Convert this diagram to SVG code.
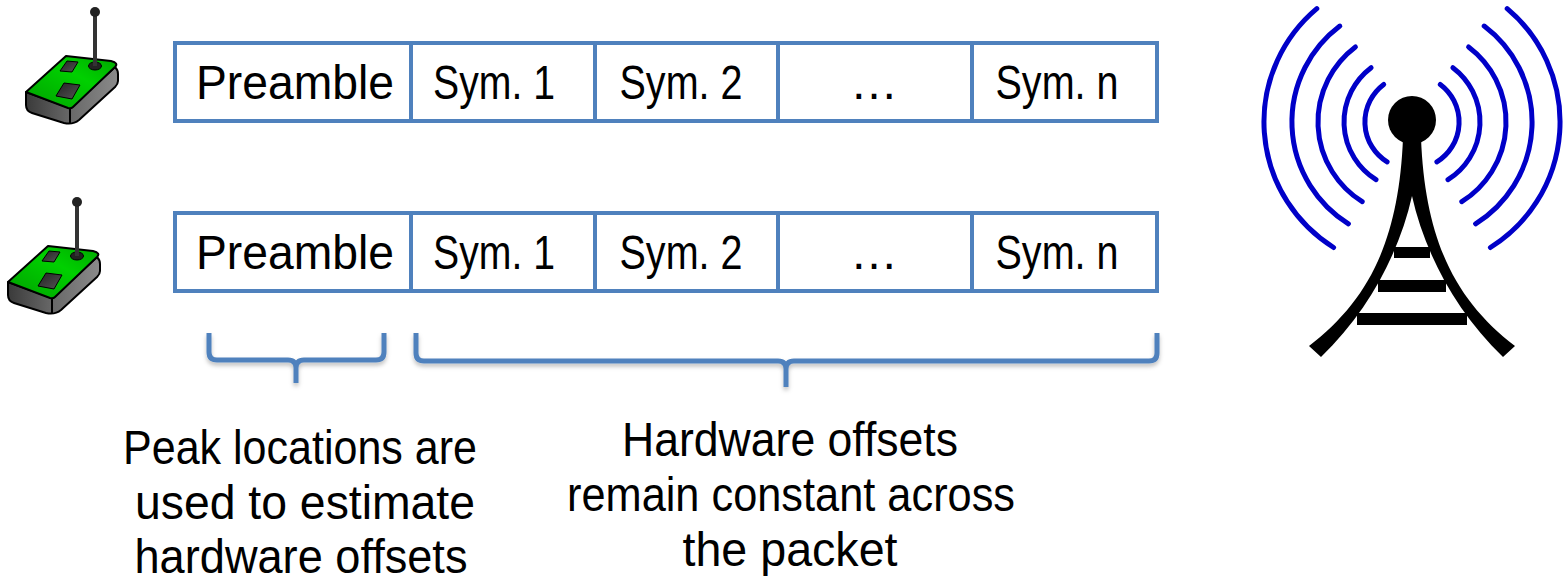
<svg xmlns="http://www.w3.org/2000/svg" width="1567" height="580" viewBox="0 0 1567 580">
  <style>
    .cell { fill: #ffffff; stroke: #4F81BD; stroke-width: 4; }
    .lbl { font-family: "Liberation Sans", Arial, sans-serif; font-size: 48px; fill: #000000; text-anchor: middle; }
    .brace { fill: none; stroke: #4F81BD; stroke-width: 5; stroke-linecap: butt; stroke-linejoin: round; filter: url(#shade); }
    .wave { fill: none; stroke: #0000C8; stroke-width: 5; stroke-linecap: round; }
    .outline { stroke: #000000; stroke-width: 2; stroke-linejoin: round; }
  </style>
  <defs>
    <linearGradient id="greenTop" x1="0" y1="1" x2="1" y2="0">
      <stop offset="0" stop-color="#00A000"/>
      <stop offset="0.6" stop-color="#00D000"/>
      <stop offset="1" stop-color="#00A800"/>
    </linearGradient>
    <linearGradient id="greySide" x1="0" y1="0" x2="1" y2="0">
      <stop offset="0" stop-color="#3a3a3a"/>
      <stop offset="0.5" stop-color="#6a6a6a"/>
      <stop offset="1" stop-color="#8a8a8a"/>
    </linearGradient>
    <linearGradient id="chip" x1="0" y1="0" x2="1" y2="1">
      <stop offset="0" stop-color="#222222"/>
      <stop offset="1" stop-color="#555555"/>
    </linearGradient>
    <filter id="shade" x="-5%" y="-30%" width="110%" height="180%">
      <feDropShadow dx="0" dy="3" stdDeviation="2" flood-color="#000000" flood-opacity="0.25"/>
    </filter>
    <!-- sensor mote icon -->
    <g id="mote">
      <!-- body sides -->
      <path class="outline" fill="url(#greySide)" d="M26,92 L70,108 L115,67 Q118,70 118,74 L118,81 Q118,84 115,87 L79,120 Q73,125 64,123 L32,113 Q26,111 26,105 Z"/>
      <path class="outline" fill="none" d="M70,108 L70,123"/>
      <!-- top face -->
      <path class="outline" fill="url(#greenTop)" d="M26,92 L66,56 L111,61 Q119,63 115,67 L73,107 Q71,109 68,108 Z"/>
      <!-- chips -->
      <path fill="url(#chip)" stroke="#000" stroke-width="1" d="M60,71 L67,61 L78,62 L72,72 Z"/>
      <path fill="url(#chip)" stroke="#000" stroke-width="1" d="M56,96 L64,83 L80,85 L72,99 Z"/>
      <!-- antenna -->
      <ellipse cx="95" cy="66" rx="6.5" ry="4" fill="#222222" stroke="#000" stroke-width="1"/>
      <line x1="95" y1="13" x2="95" y2="66" stroke="#333333" stroke-width="4"/>
      <circle cx="95" cy="12" r="5" fill="#222222"/>
    </g>
  </defs>

  <!-- transmitting nodes -->
  <g id="mote-1">
    <use href="#mote"/>
  </g>
  <g id="mote-2">
    <use href="#mote" transform="translate(-18,190)"/>
  </g>

  <!-- packet from node 1 -->
  <g id="packet-1">
    <rect class="cell" x="175" y="43" width="236" height="78"/>
    <rect class="cell" x="411" y="43" width="184" height="78"/>
    <rect class="cell" x="595" y="43" width="183" height="78"/>
    <rect class="cell" x="778" y="43" width="194" height="78"/>
    <rect class="cell" x="972" y="43" width="185" height="78"/>
    <text class="lbl" x="295" y="99" textLength="198" lengthAdjust="spacingAndGlyphs">Preamble</text>
    <text class="lbl" x="494" y="99" textLength="122" lengthAdjust="spacingAndGlyphs">Sym. 1</text>
    <text class="lbl" x="681" y="99" textLength="123" lengthAdjust="spacingAndGlyphs">Sym. 2</text>
    <text class="lbl" x="874" y="99">…</text>
    <text class="lbl" x="1057" y="99" textLength="123" lengthAdjust="spacingAndGlyphs">Sym. n</text>
  </g>

  <!-- packet from node 2 -->
  <g id="packet-2">
    <rect class="cell" x="175" y="213" width="236" height="78"/>
    <rect class="cell" x="411" y="213" width="184" height="78"/>
    <rect class="cell" x="595" y="213" width="183" height="78"/>
    <rect class="cell" x="778" y="213" width="194" height="78"/>
    <rect class="cell" x="972" y="213" width="185" height="78"/>
    <text class="lbl" x="295" y="269" textLength="198" lengthAdjust="spacingAndGlyphs">Preamble</text>
    <text class="lbl" x="494" y="269" textLength="122" lengthAdjust="spacingAndGlyphs">Sym. 1</text>
    <text class="lbl" x="681" y="269" textLength="123" lengthAdjust="spacingAndGlyphs">Sym. 2</text>
    <text class="lbl" x="874" y="269">…</text>
    <text class="lbl" x="1057" y="269" textLength="123" lengthAdjust="spacingAndGlyphs">Sym. n</text>
  </g>

  <!-- braces grouping the packet parts -->
  <g id="connectors">
    <path class="brace" d="M209,333 L209,352 Q209,360 217,360 L288,360 Q296,360 296,368 L296,383 M296,368 Q296,360 304,360 L376,360 Q384,360 384,352 L384,333"/>
    <path class="brace" d="M416,333 L416,353 Q416,361 424,361 L778,361 Q786,361 786,369 L786,387 M786,369 Q786,361 794,361 L1149,361 Q1157,361 1157,353 L1157,333"/>
  </g>

  <!-- captions -->
  <g id="caption-preamble">
    <text class="lbl" x="300" y="464" textLength="354" lengthAdjust="spacingAndGlyphs">Peak locations are</text>
    <text class="lbl" x="305" y="519" textLength="340" lengthAdjust="spacingAndGlyphs">used to estimate</text>
    <text class="lbl" x="301" y="573" textLength="333" lengthAdjust="spacingAndGlyphs">hardware offsets</text>
  </g>
  <g id="caption-symbols">
    <text class="lbl" x="790" y="456" textLength="336" lengthAdjust="spacingAndGlyphs">Hardware offsets</text>
    <text class="lbl" x="791" y="511" textLength="448" lengthAdjust="spacingAndGlyphs">remain constant across</text>
    <text class="lbl" x="790" y="566" textLength="215" lengthAdjust="spacingAndGlyphs">the packet</text>
  </g>

  <!-- receiving tower -->
  <g id="tower">
    <path class="wave" d="M1383.7,84.4 A47,47 0 0 0 1387.1,161.9"/>
    <path class="wave" d="M1371.1,67.7 A68,68 0 0 0 1376.0,179.7"/>
    <path class="wave" d="M1355.4,46.9 A94,94 0 0 0 1362.2,201.7"/>
    <path class="wave" d="M1339.8,26.1 A120,120 0 0 0 1348.4,223.8"/>
    <path class="wave" d="M1316.8,8.6 A148,148 0 0 0 1333.6,247.5"/>
    <path class="wave" d="M1440.3,84.4 A47,47 0 0 1 1436.9,161.9"/>
    <path class="wave" d="M1452.9,67.7 A68,68 0 0 1 1448.0,179.7"/>
    <path class="wave" d="M1468.6,46.9 A94,94 0 0 1 1461.8,201.7"/>
    <path class="wave" d="M1484.2,26.1 A120,120 0 0 1 1475.6,223.8"/>
    <path class="wave" d="M1507.2,8.6 A148,148 0 0 1 1490.4,247.5"/>
    <!-- cross bars -->
    <rect x="1394" y="247" width="36" height="11" fill="#000"/>
    <rect x="1378" y="280" width="68" height="12" fill="#000"/>
    <rect x="1357" y="313" width="110" height="12" fill="#000"/>
    <!-- legs -->
    <path fill="#000" d="M1403,138 C1399,240 1369,300 1309,346 L1321,357 C1370,310 1400,250 1412,196 C1424,250 1454,310 1503,357 L1515,346 C1455,300 1425,240 1421,138 Z"/>
    <circle cx="1412" cy="120" r="24" fill="#000"/>
  </g>
</svg>
